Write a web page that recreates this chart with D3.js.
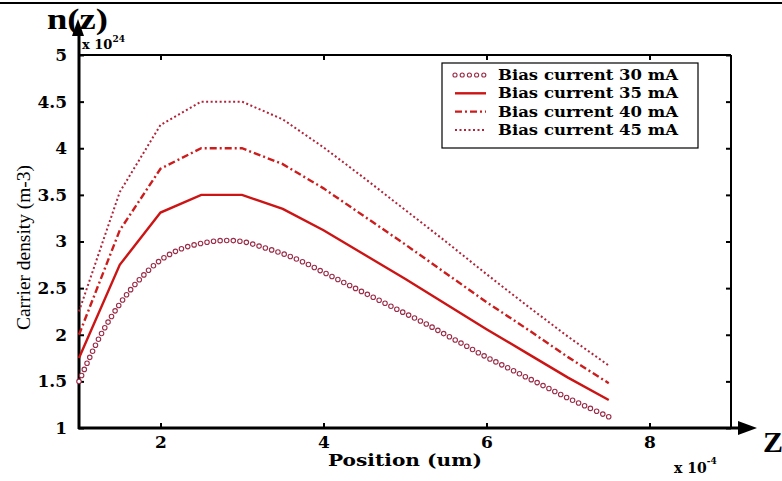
<!DOCTYPE html>
<html><head><meta charset="utf-8">
<script src="https://cdn.jsdelivr.net/npm/d3@7"></script>
<style>body{margin:0;background:#fff}svg{display:block}</style>
</head><body>
<svg id="c" width="782" height="481"></svg>
<script>
const linePositions = [1, 1.5, 2, 2.5, 3, 3.5, 4, 4.5, 5, 5.5, 6, 6.5, 7, 7.5];
const bias35 = [1.75, 2.75, 3.31, 3.5, 3.5, 3.35, 3.12, 2.86, 2.6, 2.33, 2.06, 1.8, 1.54, 1.3];
const bias40 = [2.0, 3.12, 3.78, 4.0, 4.0, 3.83, 3.57, 3.27, 2.97, 2.66, 2.35, 2.06, 1.76, 1.48];
const bias45 = [2.25, 3.53, 4.25, 4.5, 4.5, 4.31, 4.01, 3.68, 3.34, 3.0, 2.65, 2.31, 1.98, 1.67];
const circlePositions = [1, 1.25, 1.5, 1.75, 2, 2.25, 2.5, 2.75, 3, 3.25, 3.5, 3.75, 4, 4.25, 4.5, 4.75, 5, 5.25, 5.5, 5.75, 6, 6.25, 6.5, 6.75, 7, 7.25, 7.5];
const bias30 = [1.5, 1.97, 2.33, 2.6, 2.8, 2.92, 2.98, 3.01, 3.0, 2.94, 2.87, 2.78, 2.67, 2.56, 2.45, 2.34, 2.23, 2.12, 2.0, 1.88, 1.76, 1.65, 1.54, 1.43, 1.32, 1.22, 1.12];
const xTicks = [2, 4, 6, 8];
const yTicks = [1, 1.5, 2, 2.5, 3, 3.5, 4, 4.5, 5];
const legendLabels = ["Bias current 30 mA", "Bias current 35 mA", "Bias current 40 mA", "Bias current 45 mA"];

const svg = d3.select("#c");
const L = 79, R = 731, T = 55, B = 428;
const x = d3.scaleLinear().domain([1, 9]).range([L, R]);
const y = d3.scaleLinear().domain([1, 5]).range([B, T]);
const serif = "'Liberation Serif','DejaVu Serif',serif";
const wide = "'DejaVu Serif','Liberation Serif',serif";

// top border line
svg.append("line").attr("x1", 0).attr("x2", 782).attr("y1", 3).attr("y2", 3).attr("stroke", "#000").attr("stroke-width", 2);

// axes box
svg.append("line").attr("x1", L).attr("x2", R).attr("y1", T).attr("y2", T).attr("stroke", "#000").attr("stroke-width", 2);
svg.append("line").attr("x1", R).attr("x2", R).attr("y1", T).attr("y2", B).attr("stroke", "#000").attr("stroke-width", 2);

// ticks via axes
const bottomAxis = d3.axisBottom(x).tickValues(xTicks).tickSize(-5).tickPadding(10).tickFormat(d3.format("d"));
const gb = svg.append("g").attr("transform", `translate(0,${B})`).call(bottomAxis);
const topAxis = d3.axisTop(x).tickValues(xTicks).tickSize(-5).tickFormat("");
const gt = svg.append("g").attr("transform", `translate(0,${T})`).call(topAxis);
const leftAxis = d3.axisLeft(y).tickValues(yTicks).tickSize(-5).tickPadding(12).tickFormat(d => d);
const gl = svg.append("g").attr("transform", `translate(${L},0)`).call(leftAxis);
const rightAxis = d3.axisRight(y).tickValues(yTicks).tickSize(-5).tickFormat("");
const gr = svg.append("g").attr("transform", `translate(${R},0)`).call(rightAxis);
[gb, gt, gl, gr].forEach(g => {
  g.select(".domain").remove();
  g.selectAll(".tick line").attr("stroke", "#000").attr("stroke-width", 2);
  g.selectAll("text").attr("font-family", wide).attr("font-weight", "bold").attr("font-size", 17).attr("fill", "#000");
});
gb.selectAll("text").attr("dy", "0.6em");

// arrow axes
svg.append("line").attr("x1", L).attr("x2", L).attr("y1", B + 1).attr("y2", 30).attr("stroke", "#000").attr("stroke-width", 3);
svg.append("path").attr("d", `M${L - 1},19 L${L - 7},36 L${L + 5},36 Z`).attr("fill", "#000");
svg.append("line").attr("x1", L - 1).attr("x2", 745).attr("y1", B).attr("y2", B).attr("stroke", "#000").attr("stroke-width", 3);
svg.append("path").attr("d", `M757,${B} L738,${B - 7} L738,${B + 7} Z`).attr("fill", "#000");

// data lines
const lineGen = d3.line().x(d => x(d[0])).y(d => y(d[1]));
const curveGen = d3.line().x(d => x(d[0])).y(d => y(d[1])).curve(d3.curveCatmullRom);
const plot = svg.append("g");
plot.append("path").datum(circlePositions.map((p, i) => [p, bias30[i]])).attr("d", curveGen)
  .attr("fill", "none").attr("stroke", "#9a2c48").attr("stroke-width", 5.6).attr("stroke-linecap", "round").attr("stroke-dasharray", "0 6.6");
plot.append("path").datum(circlePositions.map((p, i) => [p, bias30[i]])).attr("d", curveGen)
  .attr("fill", "none").attr("stroke", "#fff").attr("stroke-width", 3.4).attr("stroke-linecap", "round").attr("stroke-dasharray", "0 6.6");
plot.append("path").datum(linePositions.map((p, i) => [p, bias35[i]])).attr("d", lineGen)
  .attr("fill", "none").attr("stroke", "#cc1414").attr("stroke-width", 2.4);
plot.append("path").datum(linePositions.map((p, i) => [p, bias40[i]])).attr("d", lineGen)
  .attr("fill", "none").attr("stroke", "#cc1c1c").attr("stroke-width", 2.4).attr("stroke-dasharray", "7 3 2 3");
plot.append("path").datum(linePositions.map((p, i) => [p, bias45[i]])).attr("d", lineGen)
  .attr("fill", "none").attr("stroke", "#b0243a").attr("stroke-width", 2).attr("stroke-dasharray", "2 2.5");

// legend
const lg = svg.append("g");
lg.append("rect").attr("x", 442).attr("y", 63).attr("width", 256).attr("height", 85).attr("fill", "#fff").attr("stroke", "#000").attr("stroke-width", 1.2);
legendLabels.forEach((t, i) => {
  const cy = 75 + i * 18.3;
  const p = lg.append("line").attr("x1", 455).attr("x2", 486).attr("y1", cy).attr("y2", cy).attr("fill", "none");
  if (i === 0) {
    p.attr("stroke", "#9a2c48").attr("stroke-width", 5.2).attr("stroke-linecap", "round").attr("stroke-dasharray", "0 7.2");
    lg.append("line").attr("x1", 455).attr("x2", 486).attr("y1", cy).attr("y2", cy)
      .attr("stroke", "#fff").attr("stroke-width", 3).attr("stroke-linecap", "round").attr("stroke-dasharray", "0 7.2");
  } else if (i === 1) {
    p.attr("stroke", "#cc1414").attr("stroke-width", 2.4);
  } else if (i === 2) {
    p.attr("stroke", "#cc1c1c").attr("stroke-width", 2.4).attr("stroke-dasharray", "7 3 2 3");
  } else {
    p.attr("stroke", "#b0243a").attr("stroke-width", 2).attr("stroke-dasharray", "2 2.5");
  }
  lg.append("text").attr("x", 498).attr("y", cy + 5).attr("font-family", wide).attr("font-weight", "bold")
    .attr("font-size", 14.5).attr("fill", "#000").attr("textLength", 180).attr("lengthAdjust", "spacingAndGlyphs").text(t);
});

// texts
svg.append("text").attr("x", 47).attr("y", 29).attr("font-family", serif).attr("font-weight", "bold").attr("font-size", 29)
  .attr("textLength", 61).attr("lengthAdjust", "spacingAndGlyphs").text("n(z)");
const e1 = svg.append("text").attr("x", 82).attr("y", 49).attr("font-family", wide).attr("font-weight", "bold").attr("font-size", 13);
e1.append("tspan").text("x 10");
e1.append("tspan").attr("dy", -7).attr("font-size", 9).text("24");
const e2 = svg.append("text").attr("x", 674).attr("y", 473).attr("font-family", wide).attr("font-weight", "bold").attr("font-size", 14);
e2.append("tspan").text("x 10");
e2.append("tspan").attr("dy", -9).attr("font-size", 9).text("-4");
svg.append("text").attr("x", 328).attr("y", 466).attr("font-family", wide).attr("font-weight", "bold").attr("font-size", 17)
  .attr("textLength", 154).attr("lengthAdjust", "spacingAndGlyphs").text("Position (um)");
svg.append("text").attr("transform", "translate(30,330) rotate(-90)").attr("font-family", serif).attr("font-size", 18)
  .attr("textLength", 165).attr("lengthAdjust", "spacingAndGlyphs").text("Carrier density (m-3)");
svg.append("text").attr("x", 763).attr("y", 452).attr("font-family", serif).attr("font-weight", "bold").attr("font-size", 30).text("Z");
</script>
</body></html>
